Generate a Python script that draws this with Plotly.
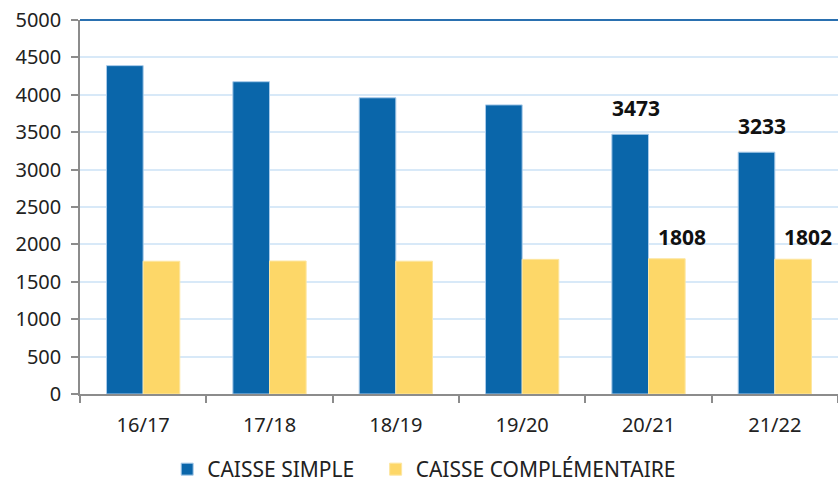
import plotly.graph_objects as go

seasons = ["16/17", "17/18", "18/19", "19/20", "20/21", "21/22"]
caisse_simple = [4390, 4175, 3960, 3865, 3473, 3233]
caisse_compl = [1775, 1778, 1776, 1800, 1808, 1802]
y_ticks = list(range(0, 5001, 500))

blue = "#0a66aa"
yellow = "#fdd768"
font_name = "Noto Sans"

fig = go.Figure()
# trailing nbsp widens the gap between the two legend entries
fig.add_trace(go.Bar(x=seasons, y=caisse_simple, name="CAISSE SIMPLE\u00a0\u00a0\u00a0",
                     marker=dict(color=blue, line=dict(color="#a9cbea", width=1))))
fig.add_trace(go.Bar(x=seasons, y=caisse_compl, name="CAISSE COMPLÉMENTAIRE",
                     marker=dict(color=yellow, line=dict(color="#fde6a0", width=1))))

# bold values only on the last two seasons
for i in [4, 5]:
        fig.add_annotation(x=seasons[i], y=caisse_simple[i], text=str(caisse_simple[i]),
                           showarrow=False, xshift=-13, yshift=26,
                           font=dict(size=21, color="#111", family=font_name, weight="bold"))
        fig.add_annotation(x=seasons[i], y=caisse_compl[i], text=str(caisse_compl[i]),
                           showarrow=False, xshift=33, yshift=22,
                           font=dict(size=21, color="#111", family=font_name, weight="bold"))

fig.update_layout(
        width=838, height=484,
        margin=dict(l=80, r=0, t=20, b=90),
        paper_bgcolor="white", plot_bgcolor="white",
        font=dict(family=font_name, size=20, color="#222"),
        barmode="group", bargap=0.42, bargroupgap=0,
        legend=dict(orientation="h", x=0.115, xanchor="left",
                    yref="container", y=0.03, yanchor="middle",
                    font=dict(size=21), itemwidth=30),
        xaxis=dict(range=[-0.5, 5.5], showline=True, linecolor="#8c8c8c", linewidth=1.5,
                   ticks="outside", tickson="boundaries", ticklen=7, tickcolor="#8c8c8c",
                   tickwidth=1.5, ticklabelstandoff=12, showgrid=False),
        yaxis=dict(range=[0, 5000], tickvals=y_ticks, showline=True, linecolor="#8c8c8c",
                   linewidth=1.5, ticks="outside", ticklen=7, tickcolor="#8c8c8c", tickwidth=1.5,
                   gridcolor="#d8e9f8", gridwidth=2, zeroline=False, ticklabelstandoff=6),
)
fig.add_shape(type="line", xref="paper", yref="paper", x0=0, x1=1, y0=1, y1=1,
              line=dict(color="#2a70b0", width=2))

# page body margin would shift the chart by 8px
fig.write_html("out.html", config={"displayModeBar": False},
               post_script="document.body.style.margin='0';")
